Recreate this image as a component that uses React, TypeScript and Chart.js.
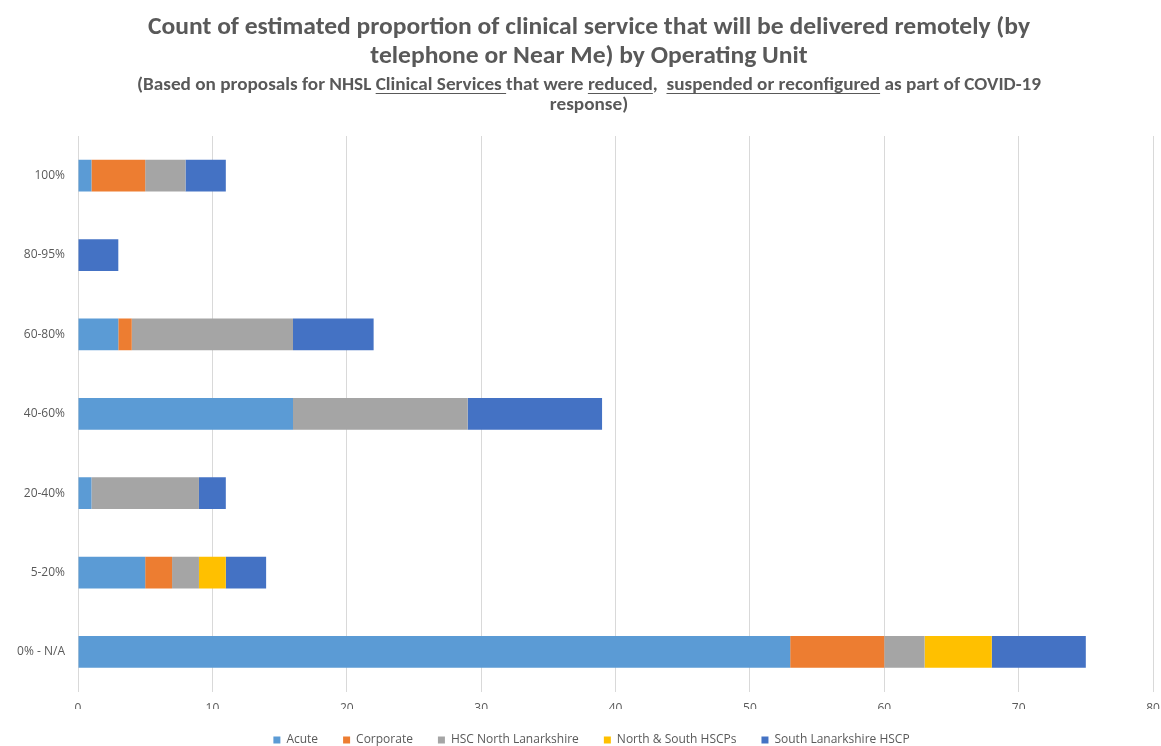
import React, { useEffect, useRef } from "react";
import { Chart, registerables } from "chart.js";

Chart.register(...registerables);

const categories = ["100%", "80-95%", "60-80%", "40-60%", "20-40%", "5-20%", "0% - N/A"];
const acute = [1, 0, 3, 16, 1, 5, 53];
const corporate = [4, 0, 1, 0, 0, 2, 7];
const hscNorthLanarkshire = [3, 0, 12, 13, 8, 2, 3];
const northSouthHSCPs = [0, 0, 0, 0, 0, 2, 5];
const southLanarkshireHSCP = [3, 3, 6, 10, 2, 3, 7];

const seriesNames = ["Acute", "Corporate", "HSC North Lanarkshire", "North & South HSCPs", "South Lanarkshire HSCP"];
const seriesColors = ["#5B9BD5", "#ED7D31", "#A5A5A5", "#FFC000", "#4472C4"];

const titleLine1 = "Count of estimated proportion of clinical service that will be delivered remotely (by";
const titleLine2 = "telephone or Near Me) by Operating Unit";
const subtitleLine1 = [
  { t: "(Based on proposals for NHSL ", u: false },
  { t: "Clinical Services ", u: true },
  { t: "that were ", u: false },
  { t: "reduced", u: true },
  { t: ",  ", u: false },
  { t: "suspended or reconfigured", u: true },
  { t: " as part of COVID-19", u: false },
];
const subtitleLine2 = [{ t: "response)", u: false }];

const FONT = "Carlito, 'Open Sans', sans-serif";
const TEXT_COLOR = "#595959";

const titlePlugin = {
  id: "customTitle",
  afterLayout(chart: any) {
    if (chart.legend) {
      chart.legend.left += 22;
    }
  },
  afterDraw(chart: any) {
    const ctx = chart.ctx as CanvasRenderingContext2D;
    const cx = 589;
    ctx.save();
    ctx.fillStyle = TEXT_COLOR;
    ctx.strokeStyle = TEXT_COLOR;
    ctx.textBaseline = "alphabetic";
    const drawLine = (segs: { t: string; u: boolean }[], y: number, scale: number, uOff: number) => {
      const full = segs.map((s) => s.t).join("");
      const total = ctx.measureText(full).width;
      ctx.save();
      ctx.translate(cx, y);
      ctx.scale(scale, 1);
      let x = -total / 2;
      ctx.textAlign = "left";
      for (const s of segs) {
        const w = ctx.measureText(s.t).width;
        ctx.fillText(s.t, x, 0);
        if (s.u) {
          ctx.lineWidth = 1;
          ctx.beginPath();
          ctx.moveTo(x, uOff);
          ctx.lineTo(x + w, uOff);
          ctx.stroke();
        }
        x += w;
      }
      ctx.restore();
    };
    ctx.font = `bold 24px ${FONT}`;
    const s1 = 882 / ctx.measureText(titleLine1).width;
    drawLine([{ t: titleLine1, u: false }], 34, s1, 0);
    drawLine([{ t: titleLine2, u: false }], 63, s1, 0);
    ctx.font = `bold 17px ${FONT}`;
    const s2 = 904 / ctx.measureText(subtitleLine1.map((s) => s.t).join("")).width;
    drawLine(subtitleLine1, 90, s2, 3.5);
    drawLine(subtitleLine2, 110, s2, 3.5);
    ctx.restore();
  },
};

export default function App() {
  const ref = useRef<HTMLCanvasElement>(null);
  useEffect(() => {
    if (!ref.current) return;
    const data = [acute, corporate, hscNorthLanarkshire, northSouthHSCPs, southLanarkshireHSCP];
    const chart = new Chart(ref.current, {
      type: "bar",
      data: {
        labels: categories,
        datasets: data.map((d, i) => ({
          label: seriesNames[i],
          data: d,
          backgroundColor: seriesColors[i],
          borderWidth: 0,
          barPercentage: 0.5,
          categoryPercentage: 0.8,
        })),
      },
      options: {
        indexAxis: "y",
        animation: false,
        responsive: true,
        maintainAspectRatio: false,
        layout: { padding: { top: 136, left: 8, right: 8, bottom: 0 } },
        plugins: {
          title: { display: false },
          tooltip: { enabled: false },
          legend: {
            position: "bottom",
            labels: {
              boxWidth: 7,
              boxHeight: 7,
              padding: 25,
              color: TEXT_COLOR,
              font: { family: "'Open Sans', sans-serif", size: 12 },
            },
          },
        },
        scales: {
          x: {
            stacked: true,
            min: 0,
            max: 80,
            ticks: {
              stepSize: 10,
              color: TEXT_COLOR,
              padding: 10,
              font: { family: "'Open Sans', sans-serif", size: 12 },
            },
            grid: { color: "#d9d9d9", drawTicks: false },
            border: { display: false },
            afterFit: (scale: any) => {
              scale.paddingRight = 0;
              scale.paddingLeft = 0;
              scale.height = scale.height - 17;
            },
          },
          y: {
            stacked: true,
            ticks: {
              color: TEXT_COLOR,
              padding: 13,
              font: { family: "'Open Sans', sans-serif", size: 12 },
            },
            grid: { display: false, drawTicks: false },
            border: { display: false },
            afterFit: (scale: any) => {
              scale.width = 70;
            },
          },
        },
      },
      plugins: [titlePlugin],
    });
    return () => chart.destroy();
  }, []);
  return (
    <div style={{ position: "fixed", left: 0, top: 0, width: 1161, height: 746, overflow: "hidden", background: "#fff" }}>
      <div style={{ position: "absolute", left: 0, top: 0, width: 1161, height: 756 }}>
        <canvas ref={ref} />
      </div>
    </div>
  );
}
